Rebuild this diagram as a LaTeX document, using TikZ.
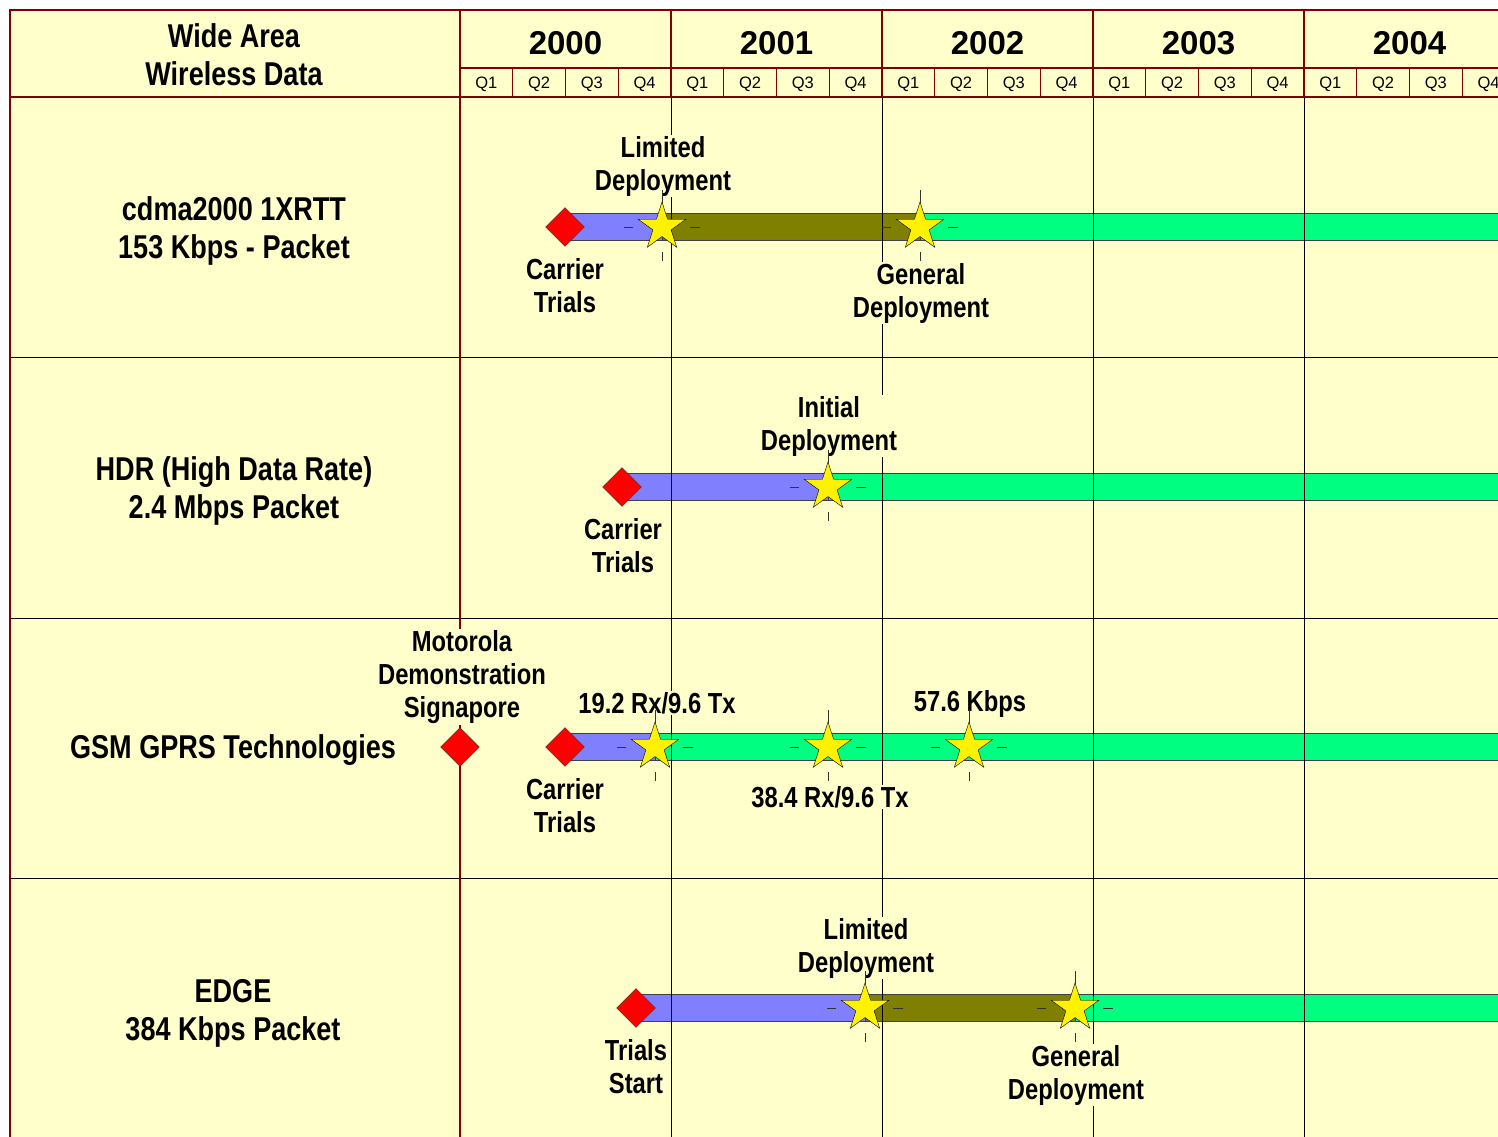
\documentclass[tikz,border=0pt]{standalone}
\usepackage{fontspec}
\setmainfont{Liberation Sans}
\newfontfamily\narrowfont{Liberation Sans}[FakeStretch=0.82]
\usetikzlibrary{
	shapes.geometric,
	positioning
}

\definecolor{chartbg}{RGB}{255,255,204}
\definecolor{framered}{RGB}{128,0,0}
\definecolor{trialblue}{RGB}{128,128,255}
\definecolor{limitolive}{RGB}{128,128,0}
\definecolor{deploygreen}{RGB}{0,255,128}

% star with its four small tick marks
\newcommand\milestone[2]{%
  \node[mstar] (#1) at (#2) {};
  \draw[tick] ([xshift=-38pt]#1.center) -- ([xshift=-29pt]#1.center)
              ([xshift=28pt]#1.center) -- ([xshift=38pt]#1.center)
              ([yshift=24pt]#1.center) -- ([yshift=37pt]#1.center)
              ([yshift=-25pt]#1.center) -- ([yshift=-34pt]#1.center);
}
% one coloured piece of a time bar
\newcommand\barpiece[3]{%
  \path[barbox, fill=#1] ([yshift=13.5pt]#2) rectangle ([yshift=-13.5pt]#3);
}

\begin{document}
\begin{tikzpicture}[
    x=1pt, y=-1pt,
    rowhead/.style={font=\narrowfont\bfseries\fontsize{33}{38}\selectfont, align=center},
    event/.style={font=\narrowfont\bfseries\fontsize{29}{33}\selectfont, align=center, fill=chartbg, inner sep=1pt},
    yearlbl/.style={font=\bfseries\fontsize{33}{38}\selectfont},
    qlbl/.style={font=\fontsize{16.5}{18}\selectfont},
    startbox/.style={diamond, draw=black!80, fill=red, minimum size=39pt, inner sep=0pt},
    mstar/.style={star, star points=5, star point ratio=2.618, draw=black, fill=yellow, minimum size=50pt, inner sep=0pt},
    tick/.style={draw=black!80, line width=0.9pt},
    barbox/.style={draw=black!75, line width=1pt},
    gridline/.style={draw=black, line width=0.9pt}
]
\useasboundingbox (0,0) rectangle (1498,1136);
\clip (0,0) rectangle (1498,1136);

\fill[chartbg] (10,10) rectangle (1520,1150);

% milestone positions
\coordinate (cdtrial) at (565,227);
\coordinate (cdlim) at (662,227);
\coordinate (cdgen) at (920,227);
\coordinate (cdend) at (1520,227);
\coordinate (hdrtrial) at (622,487);
\coordinate (hdrinit) at (828,487);
\coordinate (hdrend) at (1520,487);
\coordinate (motdemo) at (460,747);
\coordinate (gprstrial) at (565,747);
\coordinate (gprsa) at (655,747);
\coordinate (gprsb) at (828,747);
\coordinate (gprsc) at (969,747);
\coordinate (gprsend) at (1520,747);
\coordinate (edgetrial) at (636,1008);
\coordinate (edgelim) at (865,1008);
\coordinate (edgegen) at (1075,1008);
\coordinate (edgeend) at (1520,1008);

% bars
\barpiece{trialblue}{cdtrial}{cdlim}
\barpiece{limitolive}{cdlim}{cdgen}
\barpiece{deploygreen}{cdgen}{cdend}
\barpiece{trialblue}{hdrtrial}{hdrinit}
\barpiece{deploygreen}{hdrinit}{hdrend}
\barpiece{trialblue}{gprstrial}{gprsa}
\barpiece{deploygreen}{gprsa}{gprsend}
\barpiece{trialblue}{edgetrial}{edgelim}
\barpiece{limitolive}{edgelim}{edgegen}
\barpiece{deploygreen}{edgegen}{edgeend}

% grid
\foreach \x in {671,882,1093,1304}
  \draw[gridline] (\x,97) -- (\x,1150);
\foreach \y in {357,618,878}
  \draw[gridline] (10,\y) -- (1520,\y);

% header
\foreach \yr [count=\i from 0] in {2000,...,2004} {
  \pgfmathsetmacro\xa{460+211*\i}
  \draw[framered, line width=1.6pt] (\xa,10) -- (\xa,97);
  \node[yearlbl] (y\yr) at (\xa+105.5,43) {\yr};
  \foreach \q in {1,...,4} {
    \node[qlbl] (q\yr\q) at (\xa+52.75*\q-26.4,84) {Q\q};
    \draw[framered, line width=1pt] (\xa+52.75*\q,68) -- (\xa+52.75*\q,97);
  }
}
\draw[framered, line width=1.6pt] (460,68) -- (1520,68);
\draw[framered, line width=2pt] (460,97) -- (460,1150);
\draw[framered, line width=2.6pt] (10,97) -- (1520,97);
\draw[framered, line width=2.6pt] (1520,10) -- (10,10) -- (10,1150);

\node[rowhead] (title) at (234,55) {Wide Area\\Wireless Data};

% row labels
\node[rowhead] (cdma) at (234,231) {cdma2000 1XRTT\\153 Kbps - Packet};
\node[rowhead] (hdr) at (234,491) {HDR (High Data Rate)\\2.4 Mbps Packet};
\node[rowhead] (gprs) at (233,750) {GSM GPRS Technologies};
\node[rowhead] (edge) at (233,1013) {EDGE\\384 Kbps Packet};

% event labels
\node[event] (cdlimtxt) at (663,166) {Limited\\Deployment};
\node[event] (cdtrialtxt) at (565,286) {Carrier\\Trials};
\node[event] (cdgentxt) at (921,293) {General\\Deployment};
\node[event] (hdrinittxt) at (829,426) {Initial\\Deployment};
\node[event] (hdrtrialtxt) at (623,546) {Carrier\\Trials};
\node[event] (mottxt) at (462,677) {Motorola\\Demonstration\\Signapore};
\node[event] (gprsatxt) at (657,703) {19.2 Rx/9.6 Tx};
\node[event] (gprstrialtxt) at (565,806) {Carrier\\Trials};
\node[event] (gprsbtxt) at (830,797) {38.4 Rx/9.6 Tx};
\node[event] (gprsctxt) at (970,704) {57.6 Kbps};
\node[event] (edgelimtxt) at (866,948) {Limited\\Deployment};
\node[event] (edgetrialtxt) at (636,1067) {Trials\\Start};
\node[event] (edgegentxt) at (1076,1075) {General\\Deployment};

% diamonds
\node[startbox] (cdstart) at (cdtrial) {};
\node[startbox] (hdrstart) at (hdrtrial) {};
\node[startbox] (motstart) at (motdemo) {};
\node[startbox] (gprsstart) at (gprstrial) {};
\node[startbox] (edgestart) at (edgetrial) {};

% stars
\milestone{cdlimstar}{cdlim}
\milestone{cdgenstar}{cdgen}
\milestone{hdrinitstar}{hdrinit}
\milestone{gprsastar}{gprsa}
\milestone{gprsbstar}{gprsb}
\milestone{gprscstar}{gprsc}
\milestone{edgelimstar}{edgelim}
\milestone{edgegenstar}{edgegen}

\end{tikzpicture}
\end{document}
